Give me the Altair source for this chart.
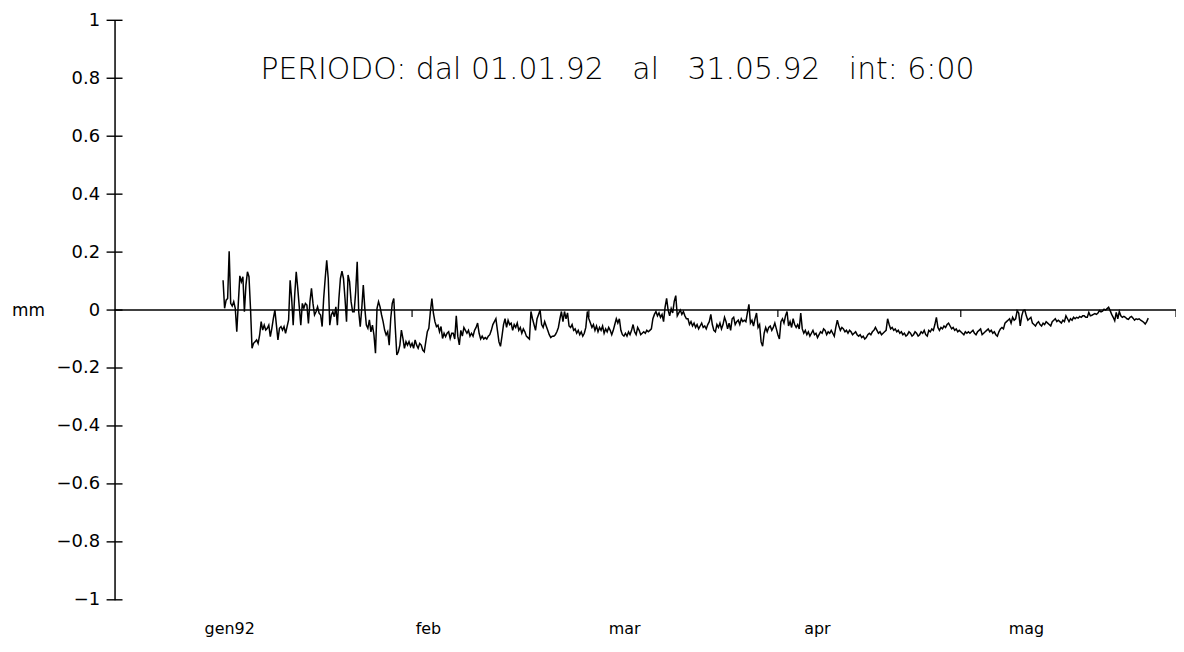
import altair as alt
import pandas as pd

# ---- data: 6-hourly readings (mm), 01.01.92 00:00 onward ----
part_1 = [0.103, 0.006, 0.034, 0.040, 0.203, 0.023, 0.014, 0.029, 0.006, -0.075,
          0.023, 0.118, 0.098, 0.115, -0.006, 0.086, 0.132, 0.115, 0.006, -0.132,
          -0.115, -0.109, -0.103, -0.115, -0.086, -0.040, -0.069, -0.052, -0.069, -0.063,
          -0.052, -0.092, -0.063, -0.029, 0.000, -0.052, -0.103, -0.063, -0.057, -0.069,
          -0.057, -0.080, -0.057, -0.034, 0.103, 0.040, -0.052, 0.052, 0.132, 0.075,
          0.011, -0.052, 0.023, 0.006, 0.023, 0.017, -0.046, 0.029, 0.075, 0.023,
          -0.017, -0.006, 0.011, -0.011, -0.017, -0.057, 0.040, 0.109, 0.172, 0.109,
          -0.052, -0.017, -0.006, -0.023, 0.011, -0.052, 0.040, 0.109, 0.134, 0.109,
          0.040, -0.040, 0.121, 0.098, 0.029, -0.006, -0.006, 0.063, 0.167, -0.006,
          -0.057, 0.006, 0.086, 0.006, -0.052, -0.063, -0.034, -0.075, -0.052, -0.086,
          -0.149, 0.006, 0.029, 0.011, -0.017, -0.040, -0.069, -0.086, -0.075, -0.121,
          -0.029, 0.023, 0.040, -0.063, -0.155, -0.144, -0.121, -0.069, -0.098, -0.132,
          -0.109, -0.121, -0.109, -0.126, -0.115, -0.132, -0.103, -0.121, -0.132, -0.115,
          -0.121, -0.138, -0.144, -0.109, -0.075, -0.063, -0.006, 0.040, -0.011, -0.040,
          -0.057, -0.052, -0.075, -0.057, -0.098, -0.080, -0.092, -0.080, -0.075, -0.098,
          -0.080]

part_2 = [-0.08, -0.10, -0.02, -0.09, -0.12, -0.07, -0.09, -0.06, -0.07, -0.08,
          -0.07, -0.09, -0.08, -0.09, -0.07, -0.06, -0.045, -0.08, -0.10, -0.09,
          -0.10, -0.095, -0.10, -0.09, -0.085, -0.07, -0.05, -0.04, -0.03, -0.07,
          -0.11, -0.125, -0.09, -0.05, -0.03, -0.06, -0.035, -0.05, -0.045, -0.07,
          -0.05, -0.06, -0.045, -0.07, -0.06, -0.08, -0.065, -0.075, -0.09, -0.095,
          -0.10, -0.005, -0.03, -0.05, -0.07, -0.03, -0.015, 0.0, -0.05, -0.06,
          -0.04, -0.055, -0.07, -0.085, -0.095, -0.09, -0.09, -0.085, -0.075, -0.06,
          -0.03, -0.005, -0.04, -0.005, -0.03, -0.01, -0.055, -0.06, -0.05, -0.07,
          -0.065, -0.08, -0.07, -0.085, -0.075, -0.09, -0.08, -0.06, -0.005, -0.03,
          -0.045, -0.06, -0.05, -0.07, -0.055, -0.075, -0.06, -0.07, -0.055, -0.08,
          -0.065, -0.075, -0.06, -0.07, -0.085, -0.07, -0.05, -0.03, -0.045, -0.03,
          -0.07, -0.085, -0.09, -0.08, -0.09, -0.075, -0.085, -0.07, -0.05, -0.075,
          -0.085, -0.06, -0.07, -0.085, -0.08, -0.075, -0.08, -0.07, -0.075, -0.07,
          -0.065, -0.03, -0.015, -0.005, -0.02, -0.01, -0.025, -0.015, -0.04, 0.01,
          0.04, 0.0, -0.02, 0.005, -0.01, 0.03, 0.05, -0.02, -0.01, 0.0,
          -0.015, -0.005, -0.02, -0.03]

part_3 = [-0.03, -0.05, -0.04, -0.055, -0.045, -0.06, -0.05, -0.065, -0.055, -0.045,
          -0.06, -0.055, -0.065, -0.05, -0.04, -0.015, -0.05, -0.07, -0.075, -0.05,
          -0.06, -0.045, -0.065, -0.05, -0.025, -0.04, -0.065, -0.045, -0.07, -0.03,
          -0.025, -0.05, -0.04, -0.035, -0.05, -0.03, -0.04, -0.035, -0.04, -0.01,
          0.02, -0.045, -0.035, -0.055, -0.03, -0.01, -0.06, -0.05, -0.11, -0.125,
          -0.08, -0.06, -0.075, -0.06, -0.055, -0.07, -0.06, -0.045, -0.065, -0.085,
          -0.1, -0.04, -0.03, -0.045, -0.02, -0.005, -0.055, -0.04, -0.06, -0.03,
          -0.05, -0.06, -0.05, -0.065, -0.01, -0.065, -0.08, -0.07, -0.085, -0.075,
          -0.09, -0.08, -0.07, -0.085, -0.08, -0.095, -0.085, -0.075, -0.08, -0.065,
          -0.07, -0.085, -0.075, -0.08, -0.07, -0.08, -0.09, -0.06, -0.035, -0.055,
          -0.07, -0.06, -0.065, -0.075, -0.07, -0.08, -0.07, -0.075, -0.085, -0.08,
          -0.075, -0.085, -0.09, -0.085, -0.095, -0.09, -0.1, -0.095, -0.085, -0.08,
          -0.085, -0.075, -0.07, -0.06, -0.07, -0.08, -0.075, -0.085, -0.08, -0.075,
          -0.07, -0.03, -0.05, -0.065, -0.06, -0.07, -0.065, -0.075, -0.07, -0.08,
          -0.075, -0.085, -0.08, -0.09, -0.085, -0.075, -0.08, -0.09, -0.085, -0.075,
          -0.08, -0.09, -0.085]

part_4 = [-0.075, -0.08, -0.07, -0.085, -0.09, -0.07, -0.075, -0.065, -0.07, -0.05,
          -0.025, -0.06, -0.07, -0.06, -0.065, -0.055, -0.06, -0.05, -0.045, -0.055,
          -0.065, -0.06, -0.07, -0.065, -0.075, -0.07, -0.075, -0.08, -0.085, -0.075,
          -0.08, -0.075, -0.08, -0.075, -0.07, -0.08, -0.085, -0.075, -0.07, -0.065,
          -0.085, -0.08, -0.075, -0.07, -0.065, -0.075, -0.07, -0.08, -0.075, -0.085,
          -0.09, -0.075, -0.065, -0.06, -0.065, -0.045, -0.04, -0.035, -0.03, -0.045,
          -0.025, -0.035, -0.03, -0.002, -0.01, -0.055, -0.02, -0.002, 0.0, -0.02,
          -0.035, -0.03, -0.025, -0.045, -0.05, -0.055, -0.045, -0.04, -0.05, -0.055,
          -0.045, -0.05, -0.04, -0.045, -0.05, -0.055, -0.04, -0.035, -0.03, -0.04,
          -0.035, -0.04, -0.045, -0.035, -0.04, -0.02, -0.03, -0.04, -0.03, -0.035,
          -0.025, -0.03, -0.025, -0.028, -0.022, -0.025, -0.02, -0.02, -0.025, -0.025,
          -0.008, -0.02, -0.018, -0.015, -0.012, -0.015, -0.01, -0.002, -0.006, -0.004,
          0.003, 0.0, 0.005, 0.01, -0.002, -0.015, -0.025, -0.037, -0.008, -0.03,
          -0.005, -0.02, -0.025, -0.022, -0.025, -0.03, -0.032, -0.025, -0.022, -0.028,
          -0.035, -0.03, -0.032, -0.03, -0.035, -0.038, -0.042, -0.048, -0.04, -0.028]

interval_days = 0.25  # int: 6:00

month_labels = ["gen92", "feb", "mar", "apr", "mag"]
month_label_days = [1.0, 33.6, 65.8, 97.4, 131.7]
zero_line_ticks = [31.0, 60.0, 91.0, 121.0, 156.3]
y_ticks = [-1.0, -0.8, -0.6, -0.4, -0.2, 0.0, 0.2, 0.4, 0.6, 0.8, 1.0]
x_domain = [-17.8, 156.3]

title_text = ("PERIODO: dal 01.01.92\u00a0\u00a0\u00a0al\u00a0\u00a0\u00a031.05.92"
              "\u00a0\u00a0\u00a0int: 6:00")

# ---- build ----
values = part_1 + part_2 + part_3 + part_4
df = pd.DataFrame({"day": [i * interval_days for i in range(len(values))], "mm": values})

FONT = "DejaVu Sans"
xscale = alt.Scale(domain=x_domain, nice=False, zero=False)
yscale = alt.Scale(domain=[-1, 1], nice=False, zero=False)

month_expr = " : ".join(
    f"abs(datum.value - {d}) < 0.01 ? '{n}'" for d, n in zip(month_label_days, month_labels)
) + " : ''"

x_axis = alt.Axis(values=month_label_days, labelExpr=month_expr, domain=False,
                  ticks=False, grid=False, title=None, labelPadding=21,
                  labelFont=FONT, labelFontSize=16, labelColor="black",
                  labelFlush=False, labelOverlap=False, labelBound=False)
y_axis = alt.Axis(values=y_ticks, ticks=False, grid=False, domainColor="black",
                  domainWidth=1.5,
                  labelExpr="replace(format(datum.value, '.1~f'), '-', '\u2212')",
                  labelPadding=15, labelFont=FONT, labelFontSize=18,
                  labelColor="black", labelFlush=False, labelOverlap=False,
                  title="mm", titleAngle=0, titleX=-87, titleY=291,
                  titleAlign="center", titleBaseline="middle", titleFont=FONT,
                  titleFontSize=17, titleFontWeight="normal", titleColor="black")

line = alt.Chart(df).mark_line(color="black", strokeWidth=1.5).encode(
    x=alt.X("day:Q", scale=xscale, axis=x_axis),
    y=alt.Y("mm:Q", scale=yscale, axis=y_axis),
)

zero_rule = alt.Chart(pd.DataFrame({"mm": [0.0]})).mark_rule(
    color="black", strokeWidth=1.4
).encode(y=alt.Y("mm:Q", scale=yscale, axis=y_axis))

ytick_rules = alt.Chart(pd.DataFrame({"mm": y_ticks})).mark_rule(
    color="black", strokeWidth=1.4
).encode(y=alt.Y("mm:Q", scale=yscale, axis=y_axis), x=alt.value(-8), x2=alt.value(8))

xtick_rules = alt.Chart(pd.DataFrame({"day": zero_line_ticks, "mm": [0.0] * len(zero_line_ticks)})).mark_rule(
    color="black", strokeWidth=1.2
).encode(x=alt.X("day:Q", scale=xscale, axis=x_axis),
         y=alt.Y("mm:Q", scale=yscale, axis=y_axis), y2=alt.value(298))

chart = alt.layer(line, zero_rule, ytick_rules, xtick_rules).properties(
    width=1066, height=582,
    autosize=alt.AutoSizeParams(type="none"),
    padding={"left": 107, "top": 11, "right": 0, "bottom": 38},
    background="white",
    title=alt.TitleParams(text=title_text, frame="group", anchor="middle", dx=-28,
                          offset=-98, baseline="alphabetic", font=FONT, fontSize=30,
                          fontWeight=200, color="black"),
).configure_view(stroke=None)

chart.save("out.html", embed_options={"renderer": "svg", "actions": False})
